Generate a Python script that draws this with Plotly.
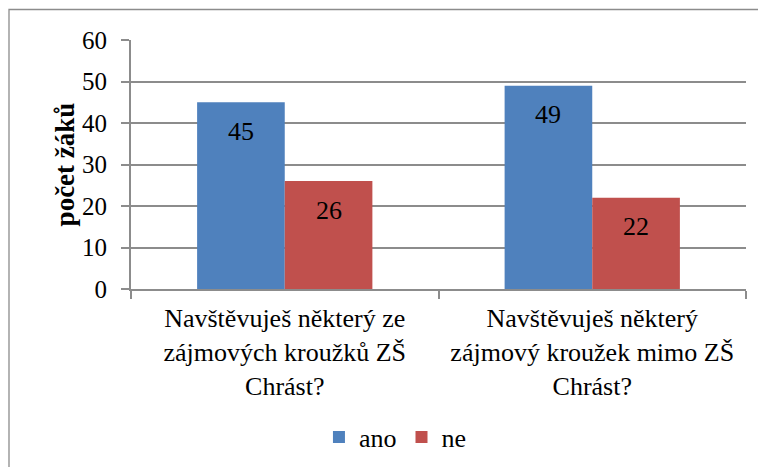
import plotly.graph_objects as go

categories = ["Navštěvuješ některý ze<br>zájmových kroužků ZŠ<br>Chrást?",
              "Navštěvuješ některý<br>zájmový kroužek mimo ZŠ<br>Chrást?"]
ano = [45, 49]
ne = [26, 22]
series_names = ["ano", "ne"]
colors = ["#4F81BD", "#C0504D"]
y_title = "počet žáků"
y_ticks = [0, 10, 20, 30, 40, 50, 60]

FONT = "Liberation Serif"
OFF = 8  # default page body margin
W, H = 766 - OFF, 467 - OFF
ml, mt = 131 - OFF, 40 - OFF
ph = 249
pw = 746 - 131
mr = W - ml - pw
mb = H - mt - ph

fig = go.Figure()
for name, vals, col in zip(series_names, [ano, ne], colors):
    fig.add_trace(go.Bar(x=categories, y=vals, name=name, marker_color=col,
                         marker_line_width=0))

annotations = []
for i, (name, vals) in enumerate(zip(series_names, [ano, ne])):
    for cat, v in zip(categories, vals):
        annotations.append(dict(x=cat, y=v, xref="x", yref="y", text=str(v),
                                showarrow=False, xshift=(-44 if i == 0 else 44),
                                yshift=-29, font=dict(family=FONT, size=26, color="black")))

fig.update_layout(
    width=W, height=H,
    margin=dict(l=ml, r=mr, t=mt, b=mb, autoexpand=False),
    paper_bgcolor="white", plot_bgcolor="white",
    barmode="group", bargap=0.43, bargroupgap=0,
    font=dict(family=FONT, size=26, color="black"),
    showlegend=True,
    legend=dict(orientation="h", x=0.43, xanchor="center", y=(40 + ph - 437) / ph,
                yanchor="middle", font=dict(family=FONT, size=26), itemwidth=30,
                traceorder="normal"),
    annotations=annotations,
    shapes=[dict(type="rect", xref="paper", yref="paper",
                 x0=(9 - 131) / pw, x1=(800 - 131) / pw,
                 y0=(289 - 500) / ph, y1=(289 - 9.5) / ph,
                 line=dict(color="#8c8c8c", width=1.3), layer="below")],
)
fig.update_xaxes(showline=True, linecolor="#8c8c8c", linewidth=2,
                 ticks="outside", tickson="boundaries", ticklen=8,
                 tickcolor="#8c8c8c", tickwidth=2, showgrid=False,
                 tickfont=dict(family=FONT, size=26), ticklabelstandoff=5)
fig.update_yaxes(range=[0, 60], tickvals=y_ticks, showline=True, linecolor="#8c8c8c",
                 linewidth=2, ticks="outside", ticklen=8, tickcolor="#8c8c8c",
                 tickwidth=2, showgrid=True, gridcolor="#8c8c8c", gridwidth=2,
                 zeroline=False, tickfont=dict(family=FONT, size=25), ticklabelstandoff=9,
                 title=dict(text="<b>" + y_title + "</b>", font=dict(family=FONT, size=27),
                            standoff=0))

fig.write_html("out.html")
